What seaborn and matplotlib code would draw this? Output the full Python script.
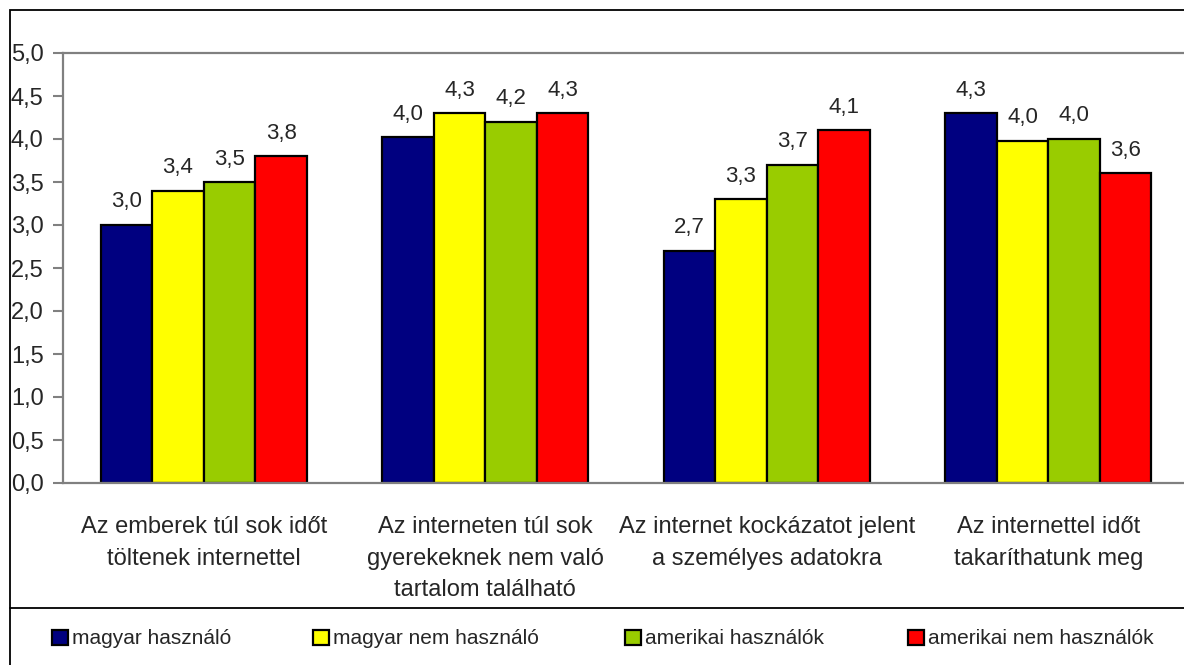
import matplotlib
matplotlib.use('Agg')
import matplotlib.pyplot as plt
from matplotlib.patches import Patch, Rectangle
from matplotlib.lines import Line2D
import numpy as np
import pandas as pd
import seaborn as sns

categories = ['Az emberek túl sok időt\ntöltenek internettel',
              'Az interneten túl sok\ngyerekeknek nem való\ntartalom található',
              'Az internet kockázatot jelent\na személyes adatokra',
              'Az internettel időt\ntakaríthatunk meg']
groups = ['magyar használó', 'magyar nem használó', 'amerikai használók', 'amerikai nem használók']
magyar_hasznalo = [3.0, 4.02, 2.7, 4.3]
magyar_nem_hasznalo = [3.4, 4.3, 3.3, 3.98]
amerikai_hasznalok = [3.5, 4.2, 3.7, 4.0]
amerikai_nem_hasznalok = [3.8, 4.3, 4.1, 3.6]
colors = ['#000080', '#FFFF00', '#99CC00', '#FF0000']
y_ticks = [0.0, 0.5, 1.0, 1.5, 2.0, 2.5, 3.0, 3.5, 4.0, 4.5, 5.0]

rows = []
for g, vals in zip(groups, [magyar_hasznalo, magyar_nem_hasznalo, amerikai_hasznalok, amerikai_nem_hasznalok]):
    for c, v in zip(categories, vals):
        rows.append({'cat': c, 'group': g, 'val': v})
df = pd.DataFrame(rows)

sns.set_style('white')
plt.rcParams['font.family'] = ['Liberation Sans', 'DejaVu Sans']

fig = plt.figure(figsize=(11.84, 6.65), dpi=100)
ax = fig.add_axes([63 / 1184, 182 / 665, 1126 / 1184, 430 / 665])

sns.barplot(data=df, x='cat', y='val', hue='group', hue_order=groups, order=categories,
            palette=colors, edgecolor='black', linewidth=1.6, width=0.733, gap=0,
            saturation=1, errorbar=None, ax=ax, legend=False)

for cont in ax.containers:
    labels = [f'{b.get_height():.1f}'.replace('.', ',') for b in cont]
    ax.bar_label(cont, labels=labels, padding=9, fontsize=16)

ax.set_xlim(-0.5, 3.5)
ax.set_ylim(0, 5)
ax.set_yticks(y_ticks)
ax.set_yticklabels([f'{t:.1f}'.replace('.', ',') for t in y_ticks], fontsize=17)
ax.set_xticks(range(len(categories)))
ax.set_xticklabels(categories, fontsize=17, linespacing=1.55)
ax.set_xticks(np.arange(-0.5, 4, 1), minor=True)
ax.tick_params(axis='x', which='major', length=0, pad=24)
ax.tick_params(axis='x', which='minor', length=6.5, width=1.5, color='#808080', direction='out')
ax.tick_params(axis='y', length=7, width=1.5, color='#808080', direction='out', left=True, pad=7)
ax.set_xlabel('')
ax.set_ylabel('')
for s in ['left', 'bottom', 'top', 'right']:
    ax.spines[s].set_color('#808080')
    ax.spines[s].set_linewidth(1.6)

# outer border and legend separator
fig.patches.append(Rectangle((10 / 1184, -0.2), 1.2, 0.2 + 655 / 665, transform=fig.transFigure,
                             fill=False, edgecolor='black', linewidth=1.3, zorder=0))
fig.lines.append(Line2D([10 / 1184, 1.0], [57 / 665, 57 / 665], transform=fig.transFigure,
                        color='black', linewidth=1.3))

legend_x = [52, 313, 625, 908]
for g, c, x in zip(groups, colors, legend_x):
    h = Patch(facecolor=c, edgecolor='black', linewidth=1.6, label=g)
    fig.legend(handles=[h], loc='center left', bbox_to_anchor=(x / 1184, 26 / 665),
               frameon=False, fontsize=15, handlelength=0.75, handleheight=0.75,
               handletextpad=0.2, borderpad=0, borderaxespad=0)

fig.savefig('out.png', dpi=100)
